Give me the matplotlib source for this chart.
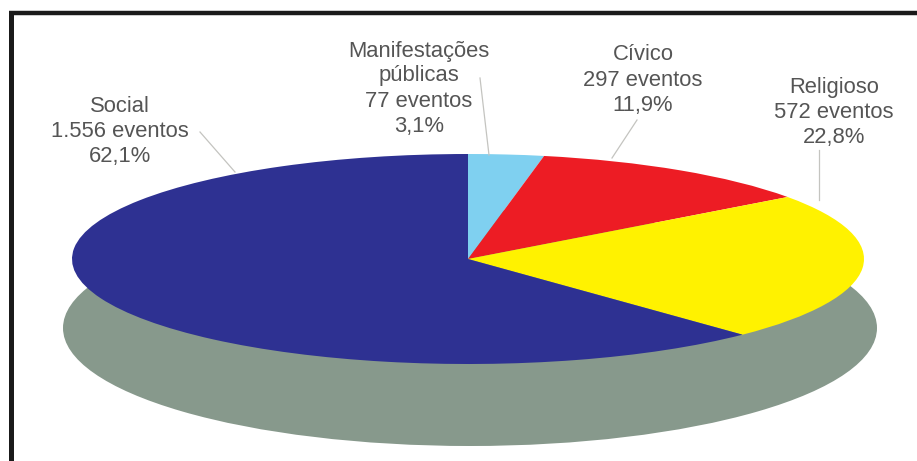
"""
plot.py -- flattened pie of events by type, on a grey disc
"""

import matplotlib
matplotlib.use("Agg")
import matplotlib.pyplot as plt
from matplotlib.patches import Ellipse

W, H = 917, 461

CATEGORIES = ["Manifestações\npúblicas", "Cívico", "Religioso", "Social"]
EVENTS     = [77, 297, 572, 1556]
EVENT_TXT  = ["77 eventos", "297 eventos", "572 eventos", "1.556 eventos"]
PERCENT    = ["3,1%", "11,9%", "22,8%", "62,1%"]

COLORS = ["#7FD0F0", "#ED1C24", "#FFF200", "#2E3192"]
GREY   = "#87998C"
TEXT   = "#555555"

# label centre (x, y of first line) and leader line, all in image pixels
LABEL_POS = [(419, 51), (643, 55), (834, 87), (120, 106)]
LEADERS   = [((480, 78), (489, 155)), ((637, 120), (612, 158)),
             ((819, 150), (819, 200)), ((200, 132), (235, 172))]
LINE_STEP = 25

plt.rcParams["font.family"] = ["Liberation Sans", "DejaVu Sans"]

fig = plt.figure(figsize=(W / 100, H / 100), dpi=100, facecolor="white")

# ── background layer in pixel coordinates ──
bg = fig.add_axes([0, 0, 1, 1])
bg.set_xlim(0, W)
bg.set_ylim(H, 0)
bg.axis("off")
bg.add_patch(Ellipse((470, 328), 814, 236, color=GREY, lw=0))

# frame: only top and left show in the original
bg.plot([10.5, 10.5], [H, 13], color="#1a1a1a", lw=3.6, solid_capstyle="butt")
bg.plot([8.5, W], [13, 13], color="#1a1a1a", lw=3.2, solid_capstyle="butt")

# ── squashed pie ──
cx, cy, rx, ry = 468, 259, 396, 105
ax = fig.add_axes([(cx - rx) / W, 1 - (cy + ry) / H, 2 * rx / W, 2 * ry / H])
ax.pie(EVENTS, colors=COLORS, startangle=90, counterclock=False, radius=1,
       wedgeprops={"linewidth": 0})
ax.set_aspect("auto")
ax.set_xlim(-1, 1)
ax.set_ylim(-1, 1)

# ── labels on top ──
top = fig.add_axes([0, 0, 1, 1], facecolor="none")
top.set_xlim(0, W)
top.set_ylim(H, 0)
top.axis("off")

for cat, ev, pct, (x, y), (p0, p1) in zip(CATEGORIES, EVENT_TXT, PERCENT,
                                          LABEL_POS, LEADERS):
    lines = cat.split("\n") + [ev, pct]
    for i, line in enumerate(lines):
        top.text(x, y + i * LINE_STEP, line, ha="center", va="center",
                 fontsize=15.8, color=TEXT)
    top.plot([p0[0], p1[0]], [p0[1], p1[1]], color="#c4c4c0", lw=0.9)

fig.savefig("out.png", dpi=100)
